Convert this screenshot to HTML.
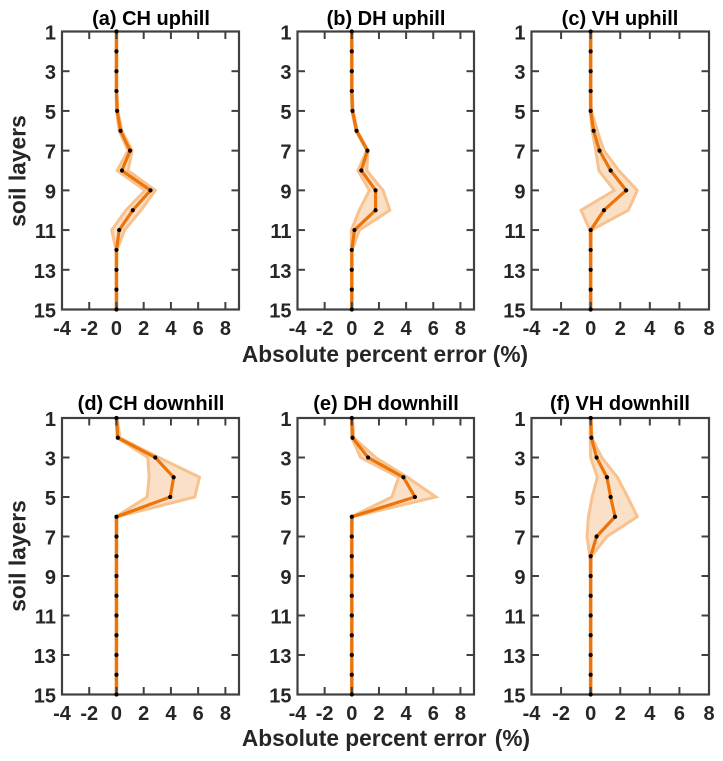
<!DOCTYPE html>
<html>
<head>
<meta charset="utf-8">
<style>
html,body{margin:0;padding:0;background:#fff;width:723px;height:761px;overflow:hidden}
svg{display:block}
text{font-family:"Liberation Sans",sans-serif;font-weight:bold}
</style>
</head>
<body>
<svg id="chart" xmlns="http://www.w3.org/2000/svg" width="723" height="761" viewBox="0 0 723 761">
<text transform="translate(25.5,171) rotate(-90)" text-anchor="middle" font-size="22.8" fill="#262626">soil layers</text>
<text transform="translate(25.5,556) rotate(-90)" text-anchor="middle" font-size="22.8" fill="#262626">soil layers</text>
<text x="385" y="362" text-anchor="middle" font-size="22.7" fill="#262626">Absolute percent error (%)</text>
<text x="386" y="746" text-anchor="middle" font-size="22.7" fill="#262626">Absolute percent error <tspan dx="2">(%)</tspan></text>
</svg>
<script>
const layers = [1,2,3,4,5,6,7,8,9,10,11,12,13,14,15];
const yTickLabels = [1,3,5,7,9,11,13,15];
const xTickLabels = [-4,-2,0,2,4,6,8];

const titles = ["(a) CH uphill","(b) DH uphill","(c) VH uphill","(d) CH downhill","(e) DH downhill","(f) VH downhill"];
const panelKeys = ["ch-uphill","dh-uphill","vh-uphill","ch-downhill","dh-downhill","vh-downhill"];
const xMaxValues = [9,9,8,9,9,8];

const meanA = [0,0,0,0,0.05,0.3,1,0.4,2.5,1.2,0.2,0,0,0,0];
const upperA = [0.03,0.03,0.03,0.03,0.1,0.4,1.15,0.85,2.85,1.8,0.6,0.03,0.03,0.03,0.03];
const lowerA = [-0.03,-0.03,-0.03,-0.03,0,0.2,0.85,0.05,2.1,0.7,-0.35,-0.03,-0.03,-0.03,-0.03];

const meanB = [0,0,0,0,0.05,0.35,1.15,0.7,1.75,1.75,0.2,0,0,0,0];
const upperB = [0.03,0.03,0.03,0.03,0.1,0.4,1.2,1.1,2.3,2.8,0.55,0.03,0.03,0.03,0.03];
const lowerB = [-0.03,-0.03,-0.03,-0.03,0,0.3,1.1,0.45,1.3,0.55,-0.03,-0.03,-0.03,-0.03,-0.03];

const meanC = [0,0,0,0,0,0.2,0.6,1.35,2.4,0.9,0,0,0,0,0];
const upperC = [0.03,0.03,0.03,0.03,0.05,0.45,0.9,1.9,3.15,2.55,0.05,0.03,0.03,0.03,0.03];
const lowerC = [-0.03,-0.03,-0.03,-0.03,-0.03,0.1,0.35,0.55,1.6,-0.65,-0.05,-0.03,-0.03,-0.03,-0.03];

const meanD = [0,0.1,2.85,4.2,3.95,0,0,0,0,0,0,0,0,0,0];
const upperD = [0.05,0.25,3.1,6.1,5.75,0.05,0.03,0.03,0.03,0.03,0.03,0.03,0.03,0.03,0.03];
const lowerD = [-0.03,0.05,2.3,2.4,2.25,-0.03,-0.03,-0.03,-0.03,-0.03,-0.03,-0.03,-0.03,-0.03,-0.03];

const meanE = [0,0.05,1.2,3.8,4.65,0,0,0,0,0,0,0,0,0,0];
const upperE = [0.05,0.15,1.75,4.1,6.2,0.05,0.03,0.03,0.03,0.03,0.03,0.03,0.03,0.03,0.03];
const lowerE = [-0.03,0,0.65,3.45,2.95,-0.03,-0.03,-0.03,-0.03,-0.03,-0.03,-0.03,-0.03,-0.03,-0.03];

const meanF = [0,0.05,0.4,1.1,1.35,1.65,0.4,0,0,0,0,0,0,0,0];
const upperF = [0.05,0.08,0.75,1.8,2.5,3.15,1.1,0.05,0.03,0.03,0.03,0.03,0.03,0.03,0.03];
const lowerF = [-0.03,-0.03,0,0.45,0.1,-0.15,-0.25,-0.05,-0.03,-0.03,-0.03,-0.03,-0.03,-0.03,-0.03];

const means = [meanA,meanB,meanC,meanD,meanE,meanF];
const uppers = [upperA,upperB,upperC,upperD,upperE,upperF];
const lowers = [lowerA,lowerB,lowerC,lowerD,lowerE,lowerF];

const NS = "http://www.w3.org/2000/svg";
const svg = document.getElementById("chart");
const colLefts = [62,297.5,531.5];
const colRights = [239,474,709];
const rowTops = [31.5,418];
const rowBottoms = [309.5,694.5];
const titleCenters = [151,386,620];
const titleBaselines = [25,410];
const AXIS = "#404040";
const TICK_TEXT = "#262626";

function make(tag, attrs, parent){
  const el = document.createElementNS(NS, tag);
  for (const k in attrs) el.setAttribute(k, attrs[k]);
  parent.appendChild(el);
  return el;
}

titles.forEach(function(title, i){
  const col = i % 3, row = Math.floor(i / 3);
  const L = colLefts[col], R = colRights[col], T = rowTops[row], B = rowBottoms[row];
  const xMax = xMaxValues[i];
  const sx = function(v){ return L + (v + 4) / (xMax + 4) * (R - L); };
  const sy = function(v){ return T + (v - 1) / 14 * (B - T); };

  const g = make("g", {}, svg);
  
  

  const up = uppers[i], lo = lowers[i], me = means[i];
  const upPts = layers.map(function(l, k){ return sx(up[k]).toFixed(2) + "," + sy(l).toFixed(2); });
  const loPts = layers.map(function(l, k){ return sx(lo[k]).toFixed(2) + "," + sy(l).toFixed(2); }).reverse();

  const band = make("polygon", {points: upPts.concat(loPts).join(" "), fill: "#fbe0c8", stroke: "#f8c28e", "stroke-width": 3, "stroke-linejoin": "miter"}, g);
  
  

  const line = make("polyline", {points: layers.map(function(l, k){ return sx(me[k]).toFixed(2) + "," + sy(l).toFixed(2); }).join(" "), fill: "none", stroke: "#ec7409", "stroke-width": 3.2, "stroke-linejoin": "miter"}, g);
  
  

  const frame = make("rect", {x: L, y: T, width: R - L, height: B - T, fill: "none", stroke: AXIS, "stroke-width": 2.2}, g);
  
  

  yTickLabels.forEach(function(v){
    const y = sy(v);
    if (v !== 1 && v !== 15) {
      const t1 = make("line", {x1: L, x2: L + 7.5, y1: y, y2: y, stroke: AXIS, "stroke-width": 2}, g);
      
      
      const t2 = make("line", {x1: R, x2: R - 7.5, y1: y, y2: y, stroke: AXIS, "stroke-width": 2}, g);
      
      
    }
    const lab = make("text", {x: L - 6, y: y + 8, "text-anchor": "end", "font-size": 20, fill: TICK_TEXT}, g);
    lab.textContent = v;
    
    
  });

  xTickLabels.forEach(function(v){
    const x = sx(v);
    if (v > -4 && v < xMax) {
      const t1 = make("line", {x1: x, x2: x, y1: B, y2: B - 7.5, stroke: AXIS, "stroke-width": 2}, g);
      
      
      const t2 = make("line", {x1: x, x2: x, y1: T, y2: T + 7.5, stroke: AXIS, "stroke-width": 2}, g);
      
      
    }
    const lab = make("text", {x: x, y: B + 25.5, "text-anchor": "middle", "font-size": 20, fill: TICK_TEXT}, g);
    lab.textContent = v;
    
    
  });

  layers.forEach(function(l, k){
    const dot = make("circle", {cx: sx(me[k]).toFixed(2), cy: sy(l).toFixed(2), r: 2.1, fill: "#000"}, g);
    
    
  });

  const ttl = make("text", {x: titleCenters[col], y: titleBaselines[row], "text-anchor": "middle", "font-size": 20, fill: "#000"}, g);
  ttl.textContent = title;
  
  
});
</script>
</body>
</html>
